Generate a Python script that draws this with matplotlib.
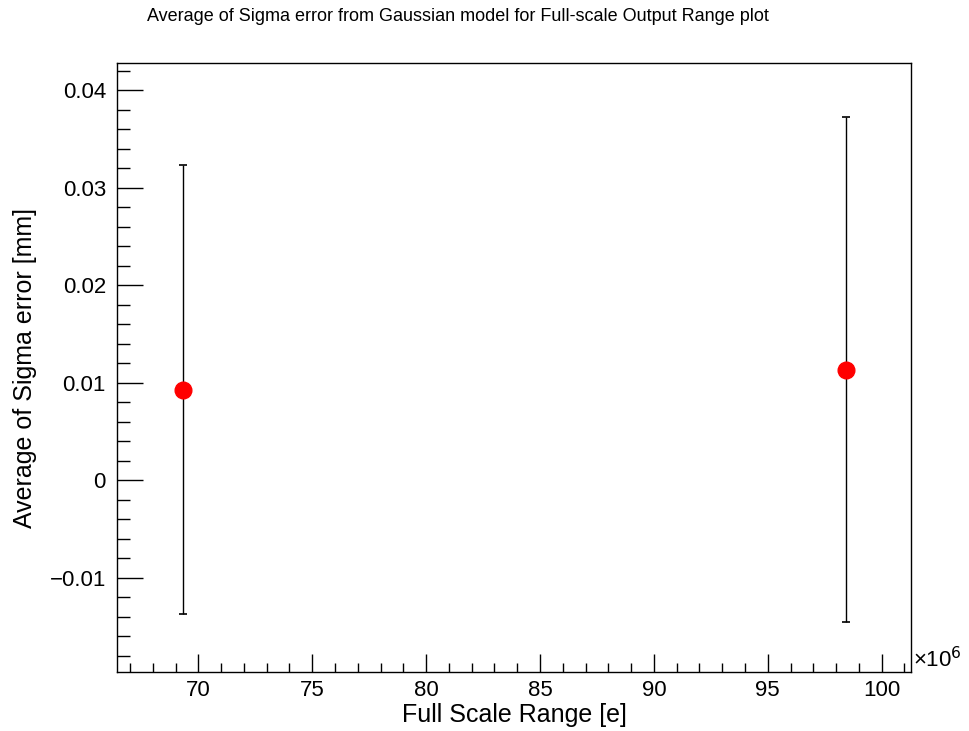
import matplotlib.pyplot as plt
from matplotlib.ticker import MultipleLocator, FuncFormatter

plt.rcParams['font.family'] = ['Liberation Sans', 'DejaVu Sans']

# full scale range [e] and mean sigma error [mm]
fsr = [69.33e6, 98.43e6]
sigma_err = [0.00931, 0.01136]
sigma_err_unc = [0.0230, 0.0259]

fig = plt.figure(figsize=(9.69, 7.31), dpi=100)
ax = fig.add_axes([117 / 969, 1 - 672 / 731, (911 - 117) / 969, (672 - 63) / 731])

ax.errorbar(fsr, sigma_err, yerr=sigma_err_unc, fmt='o', color='red', markersize=12,
            ecolor='black', elinewidth=1.0, capsize=3, capthick=1.2, zorder=3)

ax.set_xlim(66.43e6, 101.29e6)
ax.set_ylim(-0.01965, 0.0428)

ax.xaxis.set_major_locator(MultipleLocator(5e6))
ax.xaxis.set_minor_locator(MultipleLocator(1e6))
ax.xaxis.set_major_formatter(FuncFormatter(lambda v, p: f'{v / 1e6:g}'))
ax.yaxis.set_major_locator(MultipleLocator(0.01))
ax.yaxis.set_minor_locator(MultipleLocator(0.002))
ax.yaxis.set_major_formatter(FuncFormatter(lambda v, p: '0' if abs(v) < 1e-9 else f'{v:g}'.replace('-', '\u2212')))

ax.tick_params(which='both', direction='in', top=False, right=False, labelsize=16, color='black')
ax.tick_params(axis='y', which='major', length=19, width=1.0, pad=8)
ax.tick_params(axis='y', which='minor', length=9.5, width=1.0)
ax.tick_params(axis='x', which='major', length=13, width=1.0, pad=6)
ax.tick_params(axis='x', which='minor', length=6.5, width=1.0)
for s in ax.spines.values():
    s.set_linewidth(1.0)

ax.text(1.002, 0.0, '\u00d710$^{6}$', transform=ax.transAxes, fontsize=16,
        ha='left', va='bottom')

ax.set_xlabel('Full Scale Range [e]', fontsize=18, labelpad=1)
ax.set_ylabel('Average of Sigma error [mm]', fontsize=18, labelpad=9)
fig.text(0.473, 0.978, 'Average of Sigma error from Gaussian model for Full-scale Output Range plot',
         ha='center', va='center', fontsize=13)

fig.savefig('out.png', dpi=100)
